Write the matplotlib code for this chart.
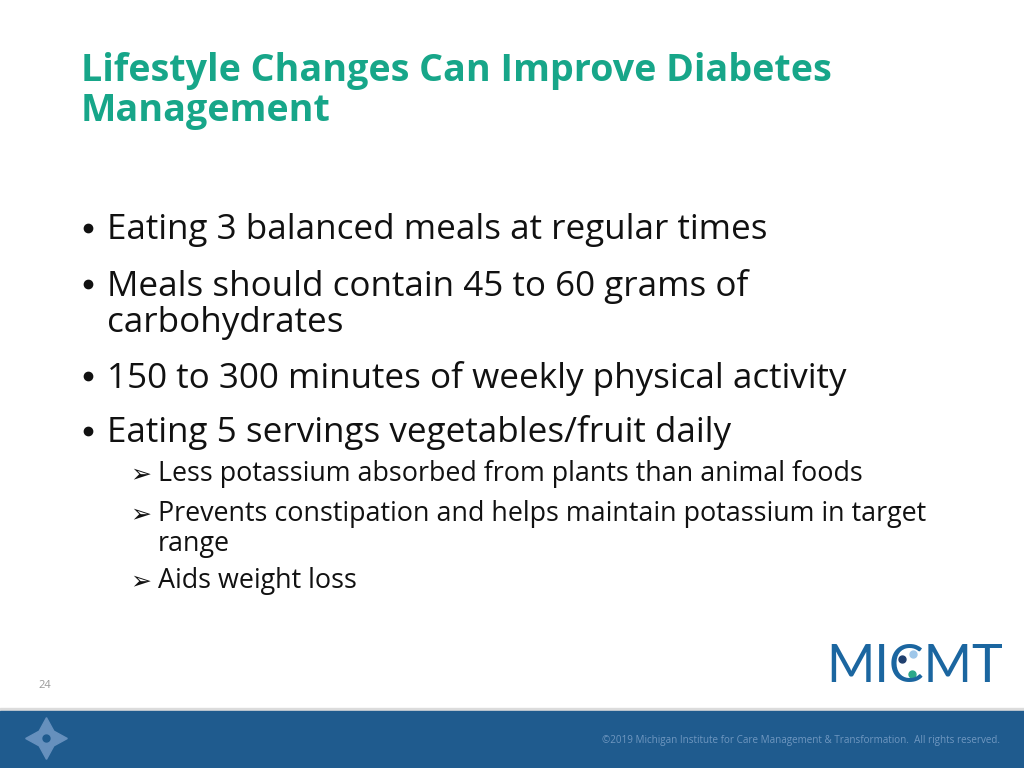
import matplotlib.pyplot as plt
from matplotlib.patches import Rectangle

# slide content
title_lines = ["Lifestyle Changes Can Improve Diabetes", "Management"]
bullet_levels = [0, 0, 0, 0, 1, 1, 1]
bullet_lines = [
    ["Eating 3 balanced meals at regular times"],
    ["Meals should contain 45 to 60 grams of", "carbohydrates"],
    ["150 to 300 minutes of weekly physical activity"],
    ["Eating 5 servings vegetables/fruit daily"],
    ["Less potassium absorbed from plants than animal foods"],
    ["Prevents constipation and helps maintain potassium in target", "range"],
    ["Aids weight loss"],
]
page_number = "24"
footer_text = "\u00a92019 Michigan Institute for Care Management & Transformation.  All rights reserved."
logo_text = "MICMT"

teal = "#17a689"
navy = "#1f5b8e"
font = ["Open Sans", "DejaVu Sans"]

fig = plt.figure(figsize=(10.24, 7.68), dpi=100)
ax = fig.add_axes([0, 0, 1, 1])
ax.set_xlim(0, 1024)
ax.set_ylim(768, 0)
ax.axis("off")

# title
for i, line in enumerate(title_lines):
    ax.text(81, 71 + 40 * i, line, color=teal, fontsize=27.1, fontweight="bold",
            family=font, va="center", ha="left")

# bullets (line centres in pixels)
line_y = [[230], [286, 323], [378], [433], [474], [514, 544], [581]]
for level, lines, ys in zip(bullet_levels, bullet_lines, line_y):
    if level == 0:
        ax.plot([88], [ys[0] - 2], marker="o", markersize=6, color="#111111")
        x0, fs = 107, 25.2
    else:
        ax.text(141, ys[0], "\u27a2", fontsize=18, family=["DejaVu Sans"],
                fontweight="bold", va="center", ha="center", color="#111111")
        x0, fs = 158, 19.4
    for line, yy in zip(lines, ys):
        ax.text(x0, yy, line, fontsize=fs, family=font, va="center", ha="left",
                color="#111111")

# page number
ax.text(45, 686, page_number, fontsize=8, color="#999999", family=font,
        va="center", ha="center")

# footer band
ax.add_patch(Rectangle((0, 708), 1024, 4, color="#dcdcdc", zorder=1))
ax.add_patch(Rectangle((0, 711), 1024, 57, color=navy, zorder=2))
ax.text(1000, 740, footer_text, fontsize=7.15, color="#6f97c0", family=font,
        ha="right", va="center", zorder=3)
# star icon in footer
ax.plot([46], [738], marker=(4, 1, 0), markersize=30, color="#6690bd", zorder=3)
ax.plot([46], [738], marker="o", markersize=5, color=navy, zorder=4)

# logo
ax.text(826, 668, logo_text, fontsize=37.5, color="#1b66a0", family=["Lato", "DejaVu Sans"],
        fontweight="normal", ha="left", va="center")
ax.plot([902], [659], marker="o", markersize=5, color="#1f3f6e")
ax.plot([913], [654], marker="o", markersize=5, color="#9ec7ea")
ax.plot([912], [674], marker="o", markersize=5, color="#2aa88a")

fig.savefig("out.png", dpi=100)
